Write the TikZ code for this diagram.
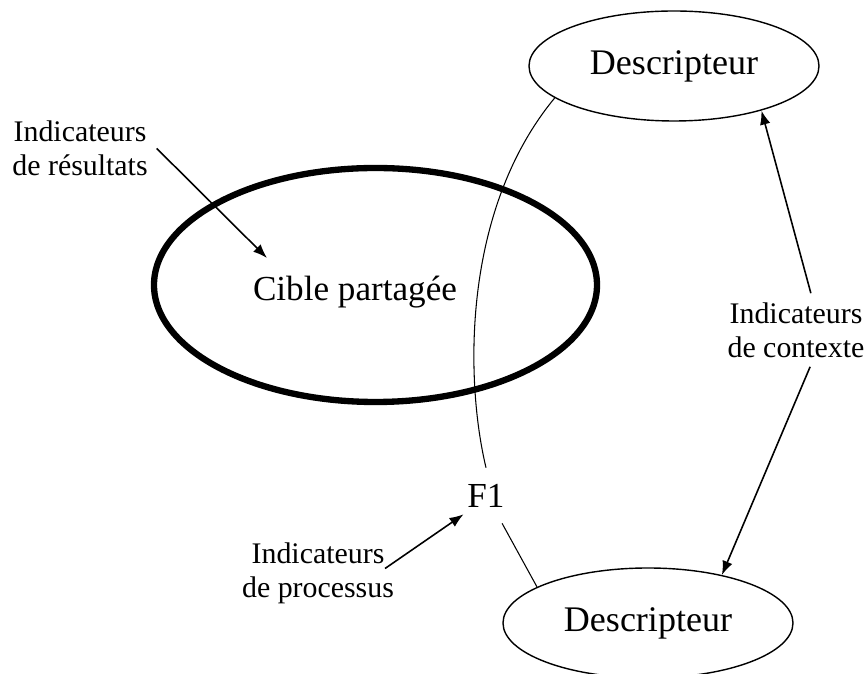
\documentclass[tikz,border=0pt]{standalone}
\usepackage{fontspec}
\setmainfont{Liberation Serif}
\usetikzlibrary{arrows.meta, positioning, shapes.geometric}

\begin{document}
\begin{tikzpicture}[
  desc/.style={draw, ellipse, line width=0.8pt, minimum width=5.8cm, minimum height=2.2cm, inner sep=0pt, font=\fontsize{20.5}{24}\selectfont},
  lbl/.style={align=center, inner sep=5pt, font=\fontsize{17}{19.5}\selectfont},
  arr/.style={-{Latex[length=8pt,width=6pt]}, line width=0.9pt}
]
  \useasboundingbox (0,0) rectangle (17.34,13.48);

  % shared target
  \node[draw, ellipse, line width=3.6pt, minimum width=8.86cm, minimum height=4.68cm] (zone) at (7.51,7.78) {};
  \node[font=\fontsize{20}{24}\selectfont] (cible) at (7.10,7.64) {Cible partagée};

  % descriptors
  \node[desc] (dtop) at (13.48,12.16) {Descripteur};
  \node[desc] (dbot) at (12.96,1.02) {Descripteur};
  \node[font=\fontsize{20}{24}\selectfont, minimum height=1.1cm, inner xsep=2pt] (f1) at (9.72,3.57) {F1};

  % indicator labels
  \node[lbl] (res) at (1.6,10.51) {Indicateurs\\de résultats};
  \node[lbl] (ctx) at (15.92,6.88) {Indicateurs\\de contexte};
  \node[lbl] (proc) at (6.36,2.01) {Indicateurs\\de processus};
  \coordinate (restip) at (5.34,8.32);

  % link through F1
  \draw[line width=0.6pt] (dtop.195) .. controls (9.24,9.28) and (9.3,5.88) .. (f1.north);
  \draw[line width=0.6pt] (f1.-60) -- (dbot.162);

  % arrows
  \draw[arr] (res.east) -- (restip);
  \draw[arr] (ctx.68) -- (dtop.-27);
  \draw[arr] (ctx.-69) -- (dbot.33);
  \draw[arr] ([shift={(-0.36,0.1)}]proc.east) -- (f1.220);
\end{tikzpicture}
\end{document}
